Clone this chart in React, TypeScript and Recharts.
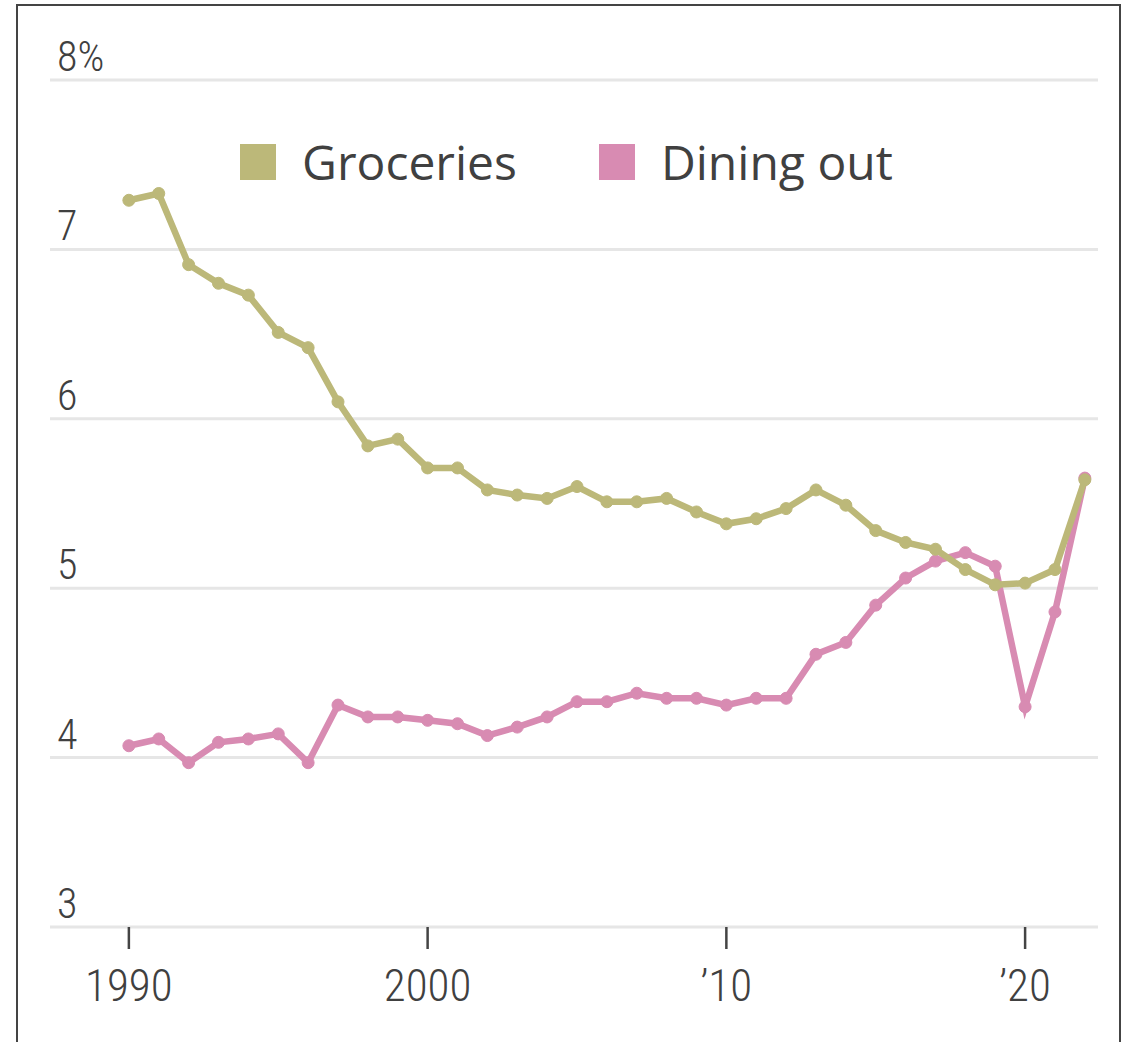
import React from 'react';
import { LineChart, Line, XAxis, YAxis, CartesianGrid, Legend } from 'recharts';

const years = [
  1990, 1991, 1992, 1993, 1994, 1995, 1996, 1997, 1998, 1999,
  2000, 2001, 2002, 2003, 2004, 2005, 2006, 2007, 2008, 2009,
  2010, 2011, 2012, 2013, 2014, 2015, 2016, 2017, 2018, 2019,
  2020, 2021, 2022,
];

const groceries = [
  7.29, 7.33, 6.91, 6.8, 6.73, 6.51, 6.42, 6.1, 5.84, 5.88,
  5.71, 5.71, 5.58, 5.55, 5.53, 5.6, 5.51, 5.51, 5.53, 5.45,
  5.38, 5.41, 5.47, 5.58, 5.49, 5.34, 5.27, 5.23, 5.11, 5.02,
  5.03, 5.11, 5.64,
];

const diningOut = [
  4.07, 4.11, 3.97, 4.09, 4.11, 4.14, 3.97, 4.31, 4.24, 4.24,
  4.22, 4.2, 4.13, 4.18, 4.24, 4.33, 4.33, 4.38, 4.35, 4.35,
  4.31, 4.35, 4.35, 4.61, 4.68, 4.9, 5.06, 5.16, 5.21, 5.13,
  4.3, 4.86, 5.65,
];

const yTicks = [3, 4, 5, 6, 7, 8];
const xTicks = [1990, 2000, 2010, 2020];
const xTickLabels = ['1990', '2000', '\u201910', '\u201920'];

const GROCERY = '#bcb879';
const DINING = '#d88bb2';
const TEXT = '#404040';
const TICK_FONT = '"Liberation Sans Narrow", "Roboto Condensed", Roboto, sans-serif';

const data = years.map((year, i) => ({
  year,
  groceries: groceries[i],
  diningOut: diningOut[i],
}));

const YTick = ({ y, payload }: any) => (
  <text x={57} y={y - 9} fill={TEXT} fontSize={42} fontWeight={300} fontFamily={TICK_FONT}>
    {payload.value === 8 ? '8%' : payload.value}
  </text>
);

const XTick = ({ x, y, payload }: any) => (
  <text x={x} y={y + 50} fill={TEXT} fontSize={45} fontWeight={300} fontFamily={TICK_FONT} textAnchor="middle">
    {xTickLabels[xTicks.indexOf(payload.value)]}
  </text>
);

const legendItems = [
  { label: 'Groceries', color: GROCERY },
  { label: 'Dining out', color: DINING },
];

const LegendContent = () => (
  <div style={{ display: 'flex', alignItems: 'center', gap: 82 }}>
    {legendItems.map((item) => (
      <div key={item.label} style={{ display: 'flex', alignItems: 'center' }}>
        <span style={{ width: 36, height: 36, background: item.color, display: 'inline-block', marginRight: 26 }} />
        <span style={{ fontFamily: '"Open Sans", "Noto Sans", sans-serif', fontSize: 48, color: TEXT, lineHeight: '48px' }}>
          {item.label}
        </span>
      </div>
    ))}
  </div>
);

export default function App() {
  return (
    <div style={{ position: 'absolute', left: 0, top: 0, width: 1131, height: 1042, overflow: 'hidden', background: '#fff' }}>
      <div
        style={{
          position: 'absolute',
          left: 16,
          top: 4,
          width: 1101,
          height: 1100,
          border: '2px solid #444',
          borderBottom: 'none',
        }}
      />
      <div style={{ position: 'absolute', left: 0, top: 0 }}>
        <LineChart width={1131} height={1042} data={data} margin={{ top: 80, right: 33, bottom: 114, left: 49 }}>
          <CartesianGrid vertical={false} stroke="#e6e6e6" strokeWidth={3} />
          <XAxis
            dataKey="year"
            type="number"
            domain={[1987.36, 2022.44]}
            allowDataOverflow
            ticks={xTicks}
            height={1}
            axisLine={false}
            tickSize={22}
            tickLine={{ stroke: '#444', strokeWidth: 2.5 }}
            tick={<XTick />}
            interval={0}
          />
          <YAxis
            domain={[3, 8]}
            ticks={yTicks}
            width={1}
            axisLine={false}
            tickLine={false}
            tick={<YTick />}
            interval={0}
          />
          <Legend
            layout="horizontal"
            verticalAlign="middle"
            align="center"
            content={<LegendContent />}
            wrapperStyle={{ top: 138, left: 240, width: 'auto' }}
          />
          <Line
            dataKey="diningOut"
            name="Dining out"
            stroke={DINING}
            strokeWidth={6.5}
            dot={{ r: 6, fill: DINING, stroke: DINING, strokeWidth: 1 }}
            activeDot={false}
            isAnimationActive={false}
          />
          <Line
            dataKey="groceries"
            name="Groceries"
            stroke={GROCERY}
            strokeWidth={6.5}
            dot={{ r: 6, fill: GROCERY, stroke: GROCERY, strokeWidth: 1 }}
            activeDot={false}
            isAnimationActive={false}
          />
        </LineChart>
      </div>
    </div>
  );
}
